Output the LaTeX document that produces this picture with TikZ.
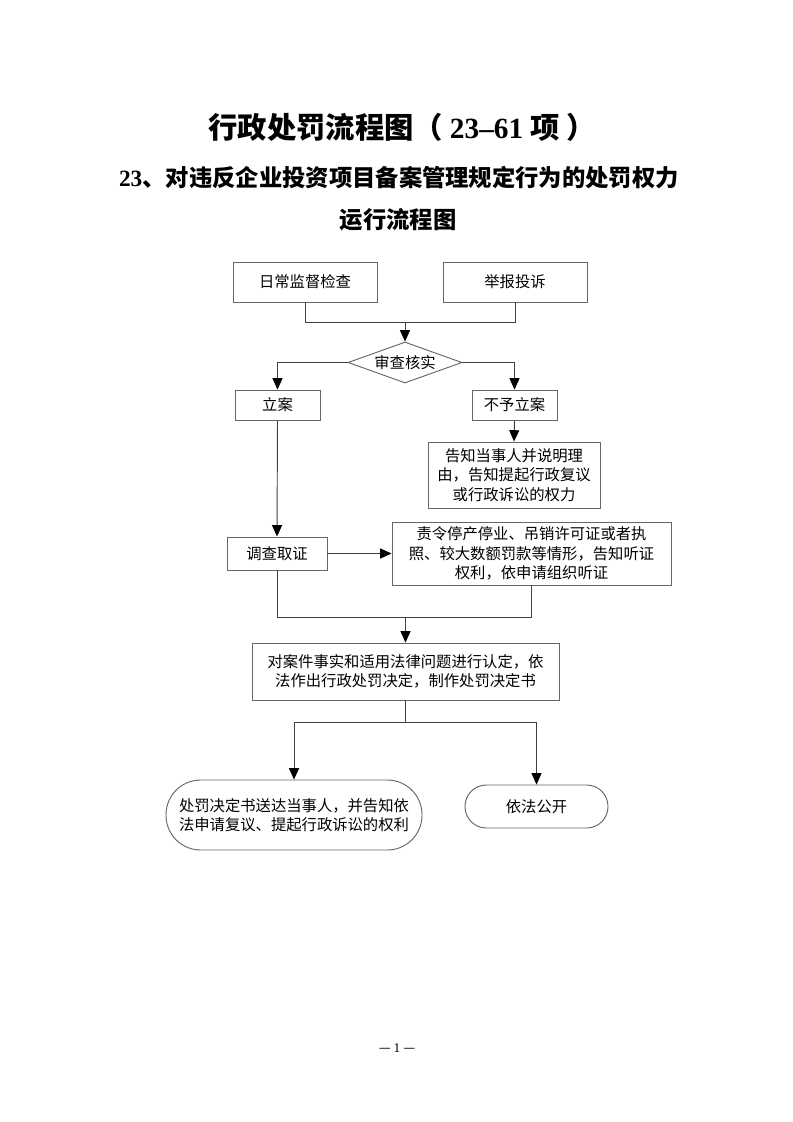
\documentclass[tikz,border=0pt]{standalone}
\usepackage{fontspec}
\setmainfont{Noto Sans CJK SC}
\newfontfamily\lat{Liberation Serif}
\usetikzlibrary{arrows.meta,shapes.geometric}
\begin{document}
\begin{tikzpicture}[x=0.75pt,y=-0.75pt,
  boxtxt/.style={font={\fontsize{11.5}{14.5}\selectfont}},
  box/.style={draw=black!60, line width=0.7pt, inner sep=0pt, align=center, boxtxt},
  roundbox/.style={box, rounded corners=#1},
  decide/.style={box, shape=diamond, aspect=2.8},
  conn/.style={draw=black!75, line width=0.7pt},
  arr/.style={conn, -{Triangle[length=8.5pt,width=7.5pt,color=black]}},
  ttl/.style={font={\fontsize{22}{26}\selectfont\bfseries}},
  sub/.style={font={\fontsize{17.5}{21}\selectfont\bfseries}}
]
\useasboundingbox[fill=white] (0,0) rectangle (793,1122);

% titles
\node[ttl] (t1) at (402,127) {行政处罚流程图（ {\lat\bfseries 23–61} 项 ）};
\node[sub] (t2) at (399,178) {{\lat\bfseries 23}、对违反企业投资项目备案管理规定行为的处罚权力};
\node[sub] (t3) at (398,220) {运行流程图};

% nodes
\node[box, minimum width=108pt, minimum height=30pt] (n1) at (305,282) {日常监督检查};
\node[box, minimum width=108pt, minimum height=30pt] (n2) at (515,282) {举报投诉};
\node[decide, minimum width=85.5pt, minimum height=30.75pt] (d) at (405,362.5) {审查核实};
\node[box, minimum width=63.75pt, minimum height=22.5pt] (la) at (277.5,405) {立案};
\node[box, minimum width=63.75pt, minimum height=22.5pt] (bl) at (514.5,405) {不予立案};
\node[box, minimum width=129pt, minimum height=49.5pt] (gz) at (514,475) {告知当事人并说明理\\由，告知提起行政复议\\或行政诉讼的权力};
\node[box, minimum width=75pt, minimum height=24.75pt] (dc) at (277,553.5) {调查取证};
\node[box, minimum width=209.25pt, minimum height=47.25pt] (zl) at (531.5,553.5) {责令停产停业、吊销许可证或者执\\照、较大数额罚款等情形，告知听证\\权利，依申请组织听证};
\node[box, minimum width=230.25pt, minimum height=42.75pt] (da) at (405.5,671.5) {对案件事实和适用法律问题进行认定，依\\法作出行政处罚决定，制作处罚决定书};
\node[roundbox=26pt, minimum width=192pt, minimum height=52.5pt] (l1) at (294,815) {处罚决定书送达当事人，并告知依\\法申请复议、提起行政诉讼的权利};
\node[roundbox=16pt, minimum width=107.25pt, minimum height=32.25pt] (r1) at (536.5,806.5) {依法公开};

\node[font={\fontsize{10}{12}\selectfont}] (pg) at (397,1048) {— {\lat 1} —};

% junction points
\coordinate (j1) at (405,322);
\coordinate (j2) at (405.5,617);
\coordinate (j3) at (405.5,722);

% connectors
\draw[conn] (n1.south) |- (j1);
\draw[conn] (n2.south) |- (j1);
\draw[arr] (j1) -- (d.north);
\draw[arr] (d.west) -| (la.north);
\draw[arr] (d.east) -| (bl.north);
\draw[arr] (bl.south) -- (gz.north);
\draw[arr] (la.south) -- (dc.north);
\draw[arr] (dc.east) -- (zl.west);
\draw[conn] (dc.south) |- (j2);
\draw[conn] (zl.south) |- (j2);
\draw[arr] (j2) -- (da.north);
\draw[conn] (da.south) -- (j3);
\draw[arr] (j3) -| (l1.north);
\draw[arr] (j3) -| (r1.north);
\end{tikzpicture}
\end{document}
